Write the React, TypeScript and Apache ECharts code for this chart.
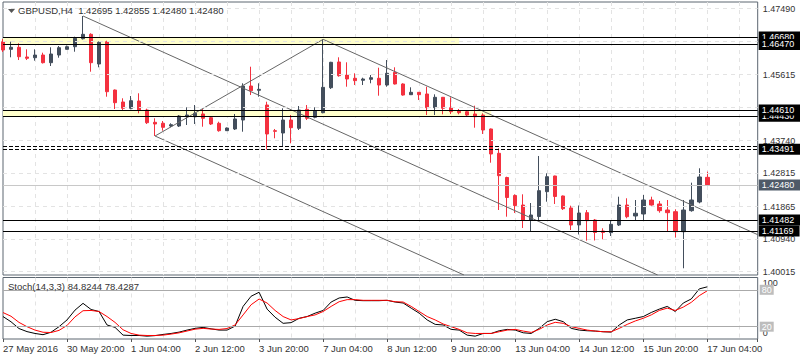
import React, { useEffect, useRef } from 'react';
import * as echarts from 'echarts';

const FONT = "'Liberation Sans', Arial, sans-serif";

// H4 bars, index 0 = 27 May 12:00 ... index 88 = 17 Jun 04:00
const opens = [1.46547,1.46331,1.46388,1.46113,1.46093,1.46169,1.45951,1.46169,1.46331,1.46405,
1.46632,1.46757,1.45914,1.46547,1.45175,1.44835,1.44656,1.44863,1.44607,1.44258,
1.44230,1.44153,1.44153,1.44417,1.44417,1.44494,1.44389,1.44230,1.44020,1.44068,
1.44323,1.45289,1.45167,1.44749,1.44020,1.43954,1.44323,1.44088,1.44627,1.44400,
1.44531,1.45241,1.45971,1.45601,1.45508,1.45451,1.45479,1.45508,1.45317,1.45678,
1.45346,1.45042,1.45110,1.45062,1.44673,1.44968,1.44673,1.44579,1.44559,1.44494,
1.44465,1.44068,1.43378,1.42690,1.42179,1.41909,1.41483,1.41583,1.42287,1.42733,
1.42165,1.41824,1.41341,1.41691,1.41483,1.41171,1.41123,1.41341,1.41909,1.41597,
1.41654,1.42051,1.41938,1.41767,1.41719,1.41151,1.41748,1.41995,1.42695];
const closes = [1.46311,1.46388,1.46121,1.46076,1.46169,1.45951,1.46198,1.46377,1.46405,1.46644,
1.46757,1.45951,1.46530,1.45127,1.44815,1.44656,1.44872,1.44607,1.44247,1.44210,
1.44116,1.44190,1.44437,1.44465,1.44514,1.44372,1.44210,1.44020,1.44096,1.44352,
1.45289,1.45156,1.45195,1.43926,1.44002,1.44323,1.44105,1.44607,1.44372,1.44579,
1.45252,1.45962,1.45582,1.45488,1.45440,1.45488,1.45525,1.45317,1.45650,1.45346,
1.45033,1.45110,1.45042,1.44673,1.44968,1.44656,1.44559,1.44531,1.44465,1.44417,
1.44039,1.43358,1.42742,1.42122,1.41895,1.41469,1.41625,1.42316,1.42713,1.42151,
1.41804,1.41341,1.41682,1.41464,1.41128,1.41128,1.41361,1.41909,1.41577,1.41674,
1.42051,1.41909,1.41748,1.41691,1.41151,1.41767,1.42051,1.42705,1.42480];
const lows = [1.46255,1.46104,1.46027,1.46027,1.46008,1.45928,1.45857,1.46093,1.46326,1.46263,
1.46610,1.45695,1.45820,1.44985,1.44636,1.44607,1.44627,1.44514,1.44210,1.43869,
1.44020,1.44116,1.44125,1.44181,1.44210,1.44133,1.44181,1.43991,1.44011,1.44039,
1.43991,1.45033,1.44985,1.43486,1.43804,1.43565,1.43662,1.44039,1.44323,1.44372,
1.44514,1.45204,1.45553,1.45269,1.45317,1.45317,1.45366,1.45014,1.45269,1.45332,
1.45014,1.45033,1.44891,1.44465,1.44465,1.44485,1.44494,1.44485,1.44437,1.44105,
1.43926,1.43111,1.41767,1.41577,1.41682,1.41256,1.41143,1.41483,1.42003,1.41938,
1.41767,1.41199,1.41072,1.40896,1.40901,1.40935,1.41029,1.41313,1.41532,1.41483,
1.41483,1.41890,1.41691,1.41151,1.40986,1.40112,1.41719,1.41958,1.42480];
const highs = [1.46624,1.46547,1.46502,1.46331,1.46331,1.46235,1.46388,1.46425,1.46439,1.46689,
1.47277,1.46786,1.46553,1.46576,1.45190,1.44940,1.45005,1.45082,1.44644,1.44372,
1.44295,1.44230,1.44465,1.44684,1.44749,1.44636,1.44409,1.44275,1.44110,1.44494,
1.45366,1.45837,1.45366,1.44843,1.44068,1.44656,1.44465,1.44721,1.44749,1.44684,
1.46615,1.45976,1.46104,1.45962,1.45650,1.45525,1.45601,1.45809,1.46027,1.45820,
1.45366,1.45252,1.45118,1.45269,1.45053,1.44977,1.44968,1.44636,1.44579,1.44730,
1.44514,1.44082,1.43520,1.42713,1.42213,1.42213,1.41966,1.43301,1.42810,1.42742,
1.42179,1.41890,1.41895,1.41767,1.41512,1.41248,1.41464,1.42145,1.42100,1.42051,
1.42193,1.42145,1.42023,1.42051,1.41787,1.42051,1.42543,1.42952,1.42855];

const stochK = [36.5,28,17,12,9,7,11,20,31,47,
58,48,44.7,22.8,18.9,6.3,5.7,5.7,4.6,5.5,
7.4,9,11.2,14.5,17.3,18.9,16.5,14.5,14.5,21,
53,69.5,76,48.6,35.4,25.5,26.6,33.7,36.5,42,
46.4,60.1,66.7,68.3,62.9,62.3,62.3,62.3,62.9,60.1,
58.5,50.2,42,31,23.8,22.8,15.6,14.5,6.3,4.6,
9,9,13.4,15.6,14.5,10.1,9,17.3,28.2,32.1,
28.2,17.3,14.5,13.4,12.9,11.8,11.2,22.8,31,33.7,
36.5,43.1,48.6,53,44.7,58.5,65.1,81.5,84.8244];
const stochD = [43,37,27,20,14.5,11,10.5,14,22,36,
46,46.4,44.7,36.5,27,15,9,6.3,5.7,5.7,
6.3,8,10,13,16,17.3,16.2,15.6,17,22.8,
39.2,55.7,65,58.5,46.4,36.5,31,33.2,36.5,39.2,
44.7,53,60.6,64,64,62.9,62.9,62.9,62.9,60.6,
60.1,53,44.7,36.5,31,24.4,20,15.6,10.1,9,
9,9,11.8,14.5,15.6,12.9,10.7,15.6,22.8,27.1,
25.5,20,17.3,14.5,12.9,11.8,11.8,17.3,23.8,29.3,
33.7,39.2,46.4,50.2,46.4,51.9,59.6,70.5,78.4287];

const xTickLabels = ['27 May 2016','30 May 20:00','1 Jun 04:00','2 Jun 12:00','3 Jun 20:00','7 Jun 04:00',
  '8 Jun 12:00','9 Jun 20:00','13 Jun 04:00','14 Jun 12:00','15 Jun 20:00','17 Jun 04:00'];
const yGridValues = [1.47490,1.46565,1.45615,1.44690,1.43740,1.42815,1.41865,1.40940,1.40015];
const yLabelValues = [1.47490,1.45615,1.43740,1.42815,1.41865,1.40940,1.40015];

// horizontal levels (draw order matters for overlapping label boxes)
const solidLevels = [1.46680,1.46470,1.44430,1.44610,1.41482,1.41169];
const dashedLevels = [1.43580,1.43491];
const dashedLabelled = [false, true];
const bidPrice = 1.42480;

// yellow zones
const bandLo = [1.46470, 1.44430];
const bandHi = [1.46680, 1.44610];
const bandEnd = [57, 61];

// trend lines [barIndex, price]
const trendA = [[10, 1.47277],[81.8, 1.39921]];
const trendC = [[19, 1.43869],[57.6, 1.39921]];
const trendD = [[19, 1.43869],[40, 1.46615]];
const trendE = [[40, 1.46615],[94.3, 1.41066]];

const stochLevels = [80, 20];
const stochTopLabel = [100];
const stochBottomLabel = [0];

const X_MIN = 0, X_MAX = 94.3;
const Y_MIN = 1.39921, Y_MAX = 1.47675;

export default function App() {
  const ref = useRef<HTMLDivElement>(null);
  useEffect(() => {
    if (!ref.current) return;
    const chart = echarts.init(ref.current, undefined, { renderer: 'svg' });
    const candles = opens.map((o, i) => [i, o, closes[i], lows[i], highs[i]]);
    const boxLabel = (bg: string) => ({
      show: true, position: 'end', distance: 1,
      formatter: (p: any) => Number(p.value).toFixed(5),
      backgroundColor: bg, color: '#ffffff', fontSize: 9, fontFamily: FONT,
      padding: [1, 6, 0, 3], lineHeight: 10,
    });
    const levelData: any[] = [];
    solidLevels.forEach(v => levelData.push({ yAxis: v, lineStyle: { color: '#000', type: 'solid', width: 1.2 }, label: boxLabel('#000') }));
    dashedLevels.forEach((v, k) => levelData.push({
      yAxis: v, lineStyle: { color: '#000', type: [4, 2], width: 1.2 },
      label: dashedLabelled[k] ? boxLabel('#000') : { show: false },
    }));
    const trend = (d: number[][]) => ({
      type: 'line', xAxisIndex: 0, yAxisIndex: 0, data: d, symbol: 'none', silent: true, z: 4,
      lineStyle: { color: '#666666', width: 1 }, clip: true,
    });
    const axisCommon = { type: 'value', min: X_MIN, max: X_MAX, interval: 4 };
    const splitLine = { show: true, showMinLine: false, showMaxLine: false, lineStyle: { color: '#e3e3e3', type: [4, 4], width: 1 } };
    const stochYBase = {
      type: 'value', gridIndex: 1, position: 'right', min: 0, max: 100,
      axisLine: { show: false }, splitLine: { show: false }, axisTick: { show: false },
    };
    chart.setOption({
      animation: false,
      backgroundColor: '#ffffff',
      textStyle: { fontFamily: FONT },
      title: [
        { text: 'GBPUSD,H4  1.42695 1.42855 1.42480 1.42480', left: 18, top: 5, padding: 0,
          textStyle: { fontSize: 9.5, fontWeight: 'normal', color: '#333', fontFamily: FONT } },
        { text: 'Stoch(14,3,3) 84.8244 78.4287', left: 8, top: 281, padding: 0,
          textStyle: { fontSize: 9.5, fontWeight: 'normal', color: '#333', fontFamily: FONT } },
      ],
      graphic: [{ type: 'polygon', shape: { points: [[8, 9], [15, 9], [11.5, 13]] }, style: { fill: '#555' }, silent: true }],
      grid: [
        { left: 3, top: 2, width: 754.7, height: 273, show: true, borderColor: '#5c6670', borderWidth: 1, backgroundColor: 'transparent' },
        { left: 3, top: 277.5, width: 754.7, height: 61.5, show: true, borderColor: '#5c6670', borderWidth: 1, backgroundColor: 'transparent' },
      ],
      xAxis: [
        { ...axisCommon, gridIndex: 0, axisLine: { show: false }, axisTick: { show: false }, axisLabel: { show: false }, splitLine },
        { ...axisCommon, gridIndex: 1, position: 'top', axisLine: { show: false }, axisTick: { show: false }, axisLabel: { show: false }, splitLine },
        { type: 'value', min: X_MIN, max: X_MAX, interval: 8, gridIndex: 1, position: 'bottom',
          axisLine: { show: false }, splitLine: { show: false },
          axisTick: { show: true, length: 3, lineStyle: { color: '#555' } },
          axisLabel: { show: true, align: 'left', margin: 4, color: '#333', fontSize: 9.5, fontFamily: FONT,
            formatter: (v: number) => {
              const k = v / 8;
              return Number.isInteger(k) && k < xTickLabels.length ? xTickLabels[k] : '';
            } } },
      ],
      yAxis: [
        { type: 'value', gridIndex: 0, position: 'right', min: Y_MIN, max: Y_MAX, scale: true,
          axisLine: { show: false }, splitLine: { show: false },
          axisTick: { show: true, length: 3, customValues: yLabelValues, lineStyle: { color: '#555' } },
          axisLabel: { show: true, customValues: yLabelValues, margin: 5, color: '#333', fontSize: 9, fontFamily: FONT,
            formatter: (v: number) => v.toFixed(5) } },
        { ...stochYBase,
          axisLabel: { show: true, customValues: stochTopLabel, margin: 5, color: '#333', fontSize: 9, fontFamily: FONT,
            verticalAlign: 'top', padding: [1, 0, 0, 0], formatter: (v: number) => String(v) } },
        { ...stochYBase,
          axisLabel: { show: true, customValues: stochBottomLabel, margin: 5, color: '#333', fontSize: 9, fontFamily: FONT,
            verticalAlign: 'bottom', padding: [0, 0, 2, 0], formatter: (v: number) => String(v) } },
      ],
      series: [
        { type: 'line', xAxisIndex: 0, yAxisIndex: 0, data: [[0, 1.44]], symbol: 'none', lineStyle: { opacity: 0 }, silent: true, z: 0,
          markLine: { silent: true, precision: 6, symbol: ['none', 'none'], label: { show: false },
            lineStyle: { color: '#e3e3e3', type: [4, 4], width: 1 },
            data: yGridValues.map(v => ({ yAxis: v })) } },
        { type: 'line', xAxisIndex: 0, yAxisIndex: 0, data: [[0, 1.44]], symbol: 'none', lineStyle: { opacity: 0 }, silent: true, z: 1,
          markArea: { silent: true, itemStyle: { color: '#ffffcc' },
            data: bandLo.map((lo, k) => [{ xAxis: X_MIN, yAxis: lo }, { xAxis: bandEnd[k], yAxis: bandHi[k] }]) },
          markLine: { silent: true, precision: 6, symbol: ['none', 'none'],
            data: [{ yAxis: bidPrice, lineStyle: { color: '#c8c8c8', type: 'solid', width: 1 }, label: boxLabel('#4f5a68') }] } },
        { type: 'candlestick', xAxisIndex: 0, yAxisIndex: 0, data: candles, barWidth: 4, z: 2, silent: true,
          itemStyle: { color: '#434e5c', color0: '#f4313f', borderColor: '#434e5c', borderColor0: '#f4313f', borderWidth: 1 } },
        trend(trendA), trend(trendC), trend(trendD), trend(trendE),
        { type: 'line', xAxisIndex: 0, yAxisIndex: 0, data: [[0, 1.44]], symbol: 'none', lineStyle: { opacity: 0 }, silent: true, z: 5,
          markLine: { silent: true, precision: 6, symbol: ['none', 'none'], data: levelData } },
        { type: 'line', xAxisIndex: 1, yAxisIndex: 1, data: [[0, 50]], symbol: 'none', lineStyle: { opacity: 0 }, silent: true, z: 1,
          markLine: { silent: true, precision: 3, symbol: ['none', 'none'],
            lineStyle: { color: '#aaaaaa', type: 'solid', width: 1 },
            label: { show: true, position: 'end', distance: 2, formatter: (p: any) => String(p.value),
              backgroundColor: '#bdbdbd', color: '#fff', padding: [1, 2, 0, 2], fontSize: 9, fontFamily: FONT, lineHeight: 9 },
            data: stochLevels.map(v => ({ yAxis: v })) } },
        { type: 'line', xAxisIndex: 1, yAxisIndex: 1, data: stochK.map((v, i) => [i, v]), symbol: 'none', silent: true, z: 3,
          lineStyle: { color: '#000000', width: 1 } },
        { type: 'line', xAxisIndex: 1, yAxisIndex: 1, data: stochD.map((v, i) => [i, v]), symbol: 'none', silent: true, z: 4,
          lineStyle: { color: '#ff0000', width: 1 } },
      ],
    });
    return () => chart.dispose();
  }, []);
  return <div ref={ref} style={{ position: 'absolute', left: 0, top: 0, width: 800, height: 360, background: '#fff' }} />;
}
